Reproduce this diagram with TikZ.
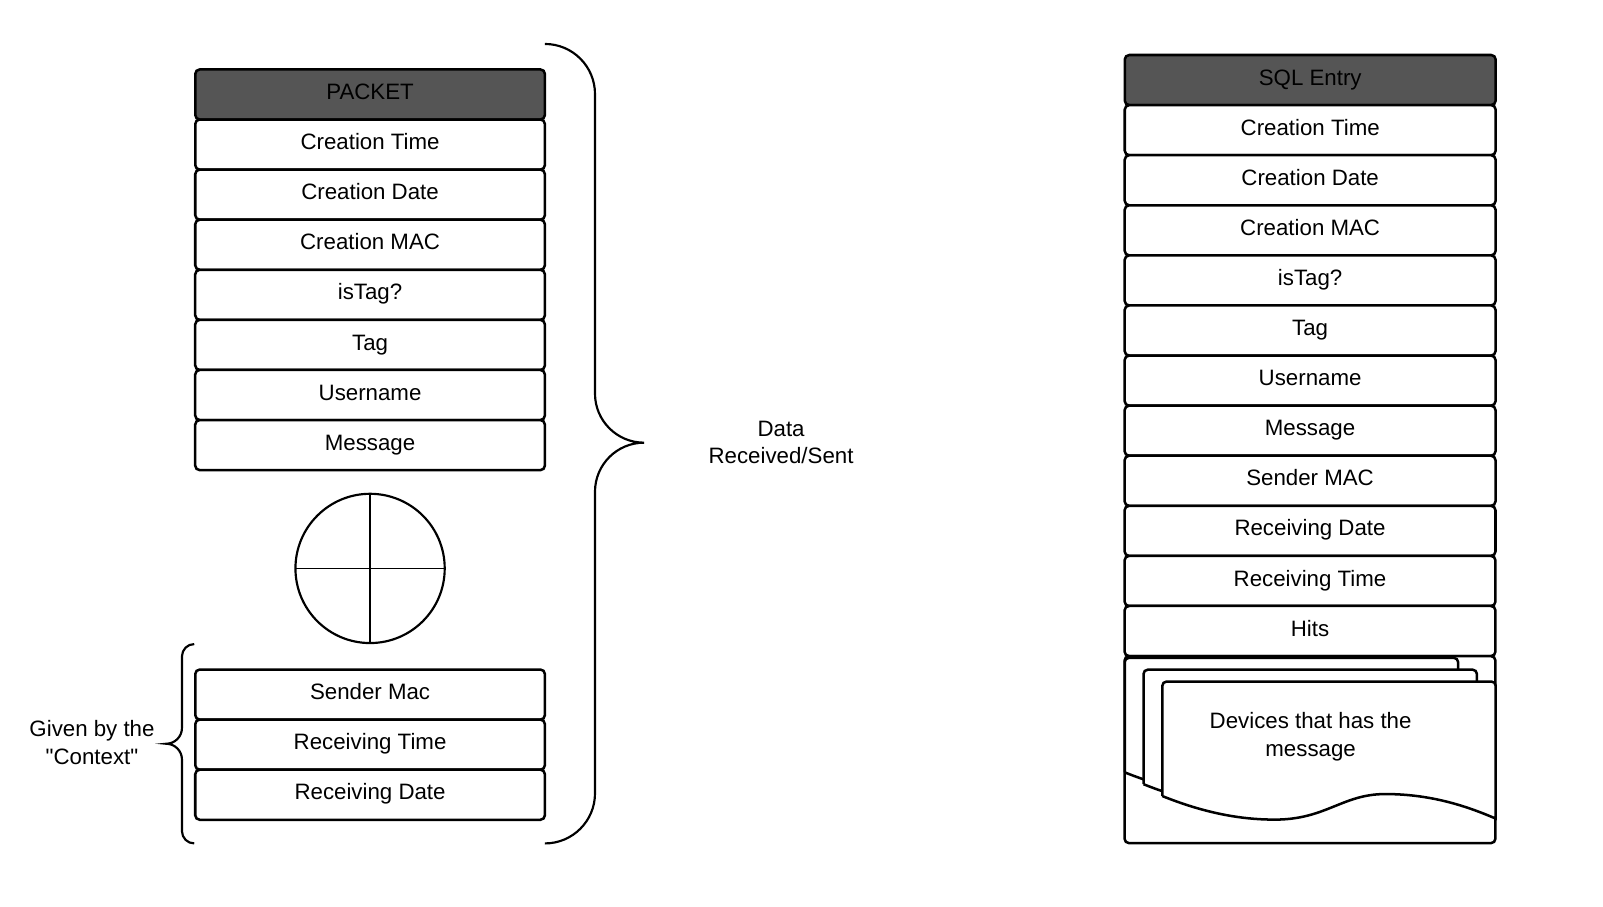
\documentclass[tikz,border=0pt]{standalone}
\usepackage{fontspec}
\setmainfont{Liberation Sans}
\usepackage{tikz}
\usetikzlibrary{positioning}
\definecolor{headgray}{HTML}{555555}

\begin{document}
\begin{tikzpicture}[scale=0.2]
              \tikzstyle{every node}+=[inner sep=0pt, outer sep=0pt, font=\fontsize{12.4}{15.3}\selectfont]
              \tikzstyle{field}=[draw, line width=1.4pt, rounded corners=2.5pt, fill=white, minimum height=0.98cm, text height=0.716em, text depth=0.15em]
              \tikzstyle{pfield}=[field, minimum width=6.84cm]
              \tikzstyle{sfield}=[field, minimum width=7.256cm]
              \tikzstyle{head}=[fill=headgray]
              \useasboundingbox (0,0) rectangle (156.8,-88.7);
              % packet
              \node (phead) [pfield, head] at (36.2,-9.24) {PACKET};
              \node (pctime) [pfield, below=0pt of phead] {Creation Time};
              \node (pcdate) [pfield, below=0pt of pctime] {Creation Date};
              \node (pcmac) [pfield, below=0pt of pcdate] {Creation MAC};
              \node (pistag) [pfield, below=0pt of pcmac] {isTag?};
              \node (ptag) [pfield, below=0pt of pistag] {Tag};
              \node (puser) [pfield, below=0pt of ptag] {Username};
              \node (pmsg) [pfield, below=0pt of puser] {Message};
              \node (wheel) [draw, circle, line width=1.2pt, minimum size=2.92cm] at (36.2,-55.6) {};
              \draw [line width=0.9pt] (wheel.north) -- (wheel.south);
              \draw [line width=0.9pt] (wheel.west) -- (wheel.east);
              \node (psmac) [pfield] at (36.2,-67.94) {Sender Mac};
              \node (prtime) [pfield, below=0pt of psmac] {Receiving Time};
              \node (prdate) [pfield, below=0pt of prtime] {Receiving Date};
              % braces
              \draw [line width=1.2pt] (53.3,-4.3) arc (90:0:4.9) -- (58.2,-38.5) arc (180:270:4.8)
                arc (90:180:4.8) -- (58.2,-77.6) arc (0:-90:4.9);
              \node (datalbl) [align=center] at (76.4,-43.3) {Data\\Received/Sent};
              \draw [line width=1.2pt] (19.0,-63.0) arc (90:180:1.2) -- (17.8,-71.2) arc (0:-90:1.55)
                arc (90:0:1.55) -- (17.8,-81.3) arc (180:270:1.2);
              \node (givenlbl) [align=center] at (9.0,-72.65) {Given by the\\\textquotedbl Context\textquotedbl};
              % sql entry
              \node (shead) [sfield, head] at (128.16,-7.83) {SQL Entry};
              \node (sctime) [sfield, below=0pt of shead] {Creation Time};
              \node (scdate) [sfield, below=0pt of sctime] {Creation Date};
              \node (scmac) [sfield, below=0pt of scdate] {Creation MAC};
              \node (sistag) [sfield, below=0pt of scmac] {isTag?};
              \node (stag) [sfield, below=0pt of sistag] {Tag};
              \node (suser) [sfield, below=0pt of stag] {Username};
              \node (smsg) [sfield, below=0pt of suser] {Message};
              \node (ssmac) [sfield, below=0pt of smsg] {Sender MAC};
              \node (srdate) [sfield, below=0pt of ssmac] {Receiving Date};
              \node (srtime) [sfield, below=0pt of srdate] {Receiving Time};
              \node (shits) [sfield, below=0pt of srtime] {Hits};
              \node (sdevs) [sfield, minimum height=3.66cm, below=0pt of shits] {};
              % device sheets
              \draw [line width=1.4pt, fill=white, shift={(110.02,-64.35)}] (0,-11.2) -- (0,-0.4) arc (180:90:0.4) -- (32.2,0) arc (90:0:0.4)
                -- (32.6,-13.4) .. controls (29.6,-12.1) and (26.1,-11.0) .. (21.8,-11.0)
                .. controls (17.6,-11.0) and (16.0,-13.5) .. (11.0,-13.5) .. controls (7.5,-13.5) and (4.0,-12.8) .. cycle;
              \draw [line width=1.4pt, fill=white, shift={(111.86,-65.51)}] (0,-11.2) -- (0,-0.4) arc (180:90:0.4) -- (32.2,0) arc (90:0:0.4)
                -- (32.6,-13.4) .. controls (29.6,-12.1) and (26.1,-11.0) .. (21.8,-11.0)
                .. controls (17.6,-11.0) and (16.0,-13.5) .. (11.0,-13.5) .. controls (7.5,-13.5) and (4.0,-12.8) .. cycle;
              \draw [line width=1.4pt, fill=white, shift={(113.7,-66.67)}] (0,-11.2) -- (0,-0.4) arc (180:90:0.4) -- (32.2,0) arc (90:0:0.4)
                -- (32.6,-13.4) .. controls (29.6,-12.1) and (26.1,-11.0) .. (21.8,-11.0)
                .. controls (17.6,-11.0) and (16.0,-13.5) .. (11.0,-13.5) .. controls (7.5,-13.5) and (4.0,-12.8) .. cycle;
              \node (devlbl) [align=center] at (128.2,-72.05) {Devices that has the\\message};
            \end{tikzpicture}
\end{document}
